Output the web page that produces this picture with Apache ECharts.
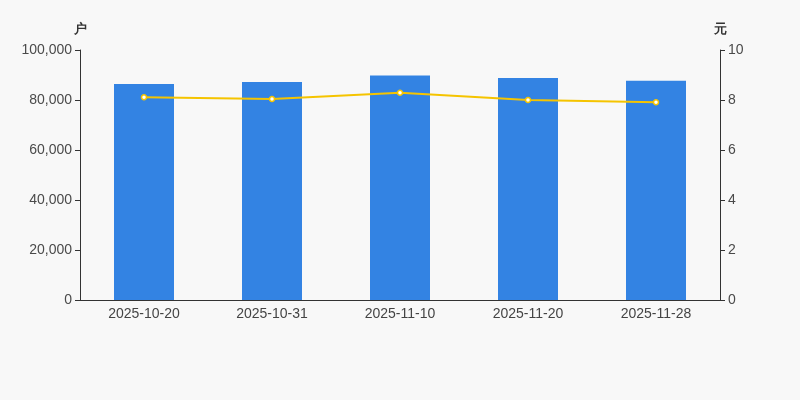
<!DOCTYPE html>
<html><head><meta charset="utf-8">
<script src="https://cdn.jsdelivr.net/npm/echarts@6/dist/echarts.min.js"></script>
<style>html,body{margin:0;padding:0;background:#f8f8f8}#c{width:800px;height:400px}</style>
</head><body><div id="c"></div>
<script>
var categories = ['2025-10-20','2025-10-31','2025-11-10','2025-11-20','2025-11-28'];
var holders = [86400, 87200, 89850, 88800, 87700];
var avgValue = [8.11, 8.04, 8.29, 8.00, 7.91];
var chart = echarts.init(document.getElementById('c'));
var font = 'Liberation Sans, Arial, sans-serif';
chart.setOption({
  backgroundColor: '#f8f8f8',
  animation: false,
  grid: {left: 80, right: 80, top: 50, bottom: 100},
  xAxis: {
    type: 'category', data: categories,
    axisLine: {lineStyle: {color: '#333'}},
    axisTick: {lineStyle: {color: '#333'}},
    axisLabel: {color: '#444', fontSize: 14, fontFamily: font, margin: 7}
  },
  yAxis: [{
    type: 'value', min: 0, max: 100000, interval: 20000, name: '户', nameGap: 14,
    nameTextStyle: {color: '#333', fontSize: 13, fontWeight: 'bold', align: 'center'},
    axisLine: {show: true, lineStyle: {color: '#333'}},
    axisTick: {show: true, lineStyle: {color: '#333'}},
    splitLine: {show: false},
    axisLabel: {color: '#4a4a4a', fontSize: 14, fontFamily: font, formatter: function(v){return v.toLocaleString('en-US');}}
  }, {
    type: 'value', min: 0, max: 10, interval: 2, name: '元', nameGap: 14,
    nameTextStyle: {color: '#333', fontSize: 13, fontWeight: 'bold', align: 'center'},
    axisLine: {show: true, lineStyle: {color: '#333'}},
    axisTick: {show: true, lineStyle: {color: '#333'}},
    splitLine: {show: false},
    axisLabel: {color: '#4a4a4a', fontSize: 14, fontFamily: font}
  }],
  series: [{
    type: 'bar', data: holders, barWidth: 60, yAxisIndex: 0,
    itemStyle: {color: '#3383e3'}
  }, {
    type: 'line', data: avgValue, yAxisIndex: 1,
    symbol: 'circle', symbolSize: 5,
    lineStyle: {color: '#f5c400', width: 2},
    itemStyle: {color: '#ffffff', borderColor: '#f5c400', borderWidth: 1.5}
  }]
});
</script></body></html>
